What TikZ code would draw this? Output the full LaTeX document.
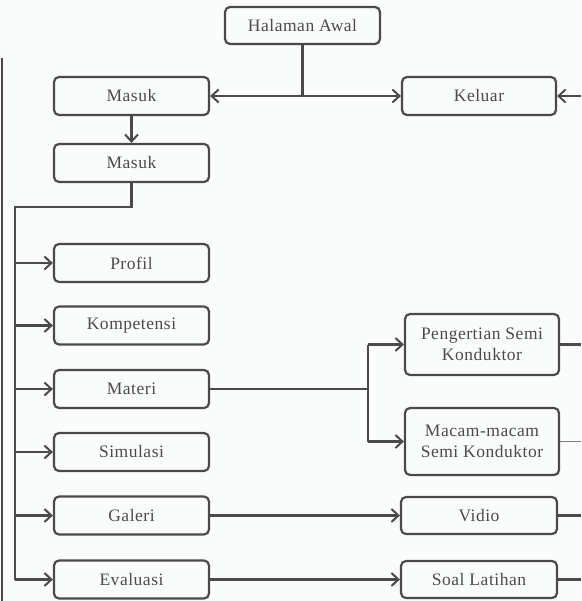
\documentclass[tikz,border=0pt]{standalone}
\usepackage{fontspec}
\setmainfont[LetterSpace=3]{Liberation Serif}
\usetikzlibrary{arrows.meta}
\definecolor{ln}{HTML}{4A4A4A}
\definecolor{tx}{HTML}{4A4A4A}
\definecolor{bg}{HTML}{FAFCFC}
\tikzset{
  box/.style={draw=ln, line width=2.2pt, rounded corners=5pt, minimum width=155pt, minimum height=38pt, inner sep=2pt, align=center, text=tx, font=\fontsize{17.5}{21}\selectfont},
  conn/.style={draw=ln, line width=2.2pt},
  arr/.style={conn, -{Straight Barb[length=7pt, width=13pt, line width=2pt]}}
}
\begin{document}
\begin{tikzpicture}[x=1pt, y=-1pt]
\useasboundingbox[fill=bg] (0,0) rectangle (581,601);
% boxes
\node[box, minimum height=37pt] (ha) at (302.5,25.5) {Halaman Awal};
\node[box] (masuk1) at (131.5,96) {Masuk};
\node[box, minimum width=154pt] (keluar) at (479,96) {Keluar};
\node[box] (masuk2) at (131.5,163) {Masuk};
\node[box] (profil) at (131.5,263) {Profil};
\node[box] (komp) at (131.5,325.5) {Kompetensi};
\node[box] (materi) at (131.5,389) {Materi};
\node[box] (simulasi) at (131.5,452) {Simulasi};
\node[box] (galeri) at (131.5,515.5) {Galeri};
\node[box] (evaluasi) at (131.5,579.5) {Evaluasi};
\node[box, minimum width=154pt, minimum height=61pt] (peng) at (482,344.5) {Pengertian Semi\\Konduktor};
\node[box, minimum width=154pt, minimum height=67pt] (macam) at (482,441.5) {Macam-macam\\Semi Konduktor};
\node[box, minimum width=156pt, minimum height=37pt] (vidio) at (479,515.5) {Vidio};
\node[box, minimum width=156pt, minimum height=37pt] (soal) at (479,579.5) {Soal Latihan};
% junction coordinates
\coordinate (j1) at (ha.south |- masuk1.east);
\coordinate (kin) at (581,96);
\coordinate (m2a) at (masuk2.south |- 0,207);
\coordinate (m2b) at (15,207);
\coordinate (ev) at (15,579.5);
\coordinate (edgeT) at (2,58);
\coordinate (edgeB) at (2,601);
\coordinate (mj) at (368,389);
\coordinate (mjt) at (368,344.5);
\coordinate (mjb) at (368,441.5);
\coordinate (po) at (581,344.5);
\coordinate (mo) at (581,441.5);
\coordinate (vo) at (581,515.5);
\coordinate (so) at (581,579.5);
% connectors
\draw[conn] (ha.south) -- (j1);
\draw[arr] (j1) -- (masuk1.east);
\draw[arr] (j1) -- (keluar.west);
\draw[arr] (kin) -- (keluar.east);
\draw[arr] (masuk1.south) -- (masuk2.north);
\draw[conn] (masuk2.south) -- (m2a) -- (m2b) -- (ev);
\draw[arr] (ev) -- (evaluasi.west);
\draw[arr] (15,263) -- (profil.west);
\draw[arr] (15,325.5) -- (komp.west);
\draw[arr] (15,389) -- (materi.west);
\draw[arr] (15,452) -- (simulasi.west);
\draw[arr] (15,515.5) -- (galeri.west);
\draw[conn, line width=1.6pt] (edgeT) -- (edgeB);
\draw[conn] (materi.east) -- (mj);
\draw[conn] (mjt) -- (mjb);
\draw[arr] (mjt) -- (peng.west);
\draw[arr] (mjb) -- (macam.west);
\draw[conn] (peng.east) -- (po);
\draw[conn, line width=1.2pt, draw=gray] (macam.east) -- (mo);
\draw[arr] (galeri.east) -- (vidio.west);
\draw[conn] (vidio.east) -- (vo);
\draw[arr] (evaluasi.east) -- (soal.west);
\draw[conn] (soal.east) -- (so);
\end{tikzpicture}
\end{document}
